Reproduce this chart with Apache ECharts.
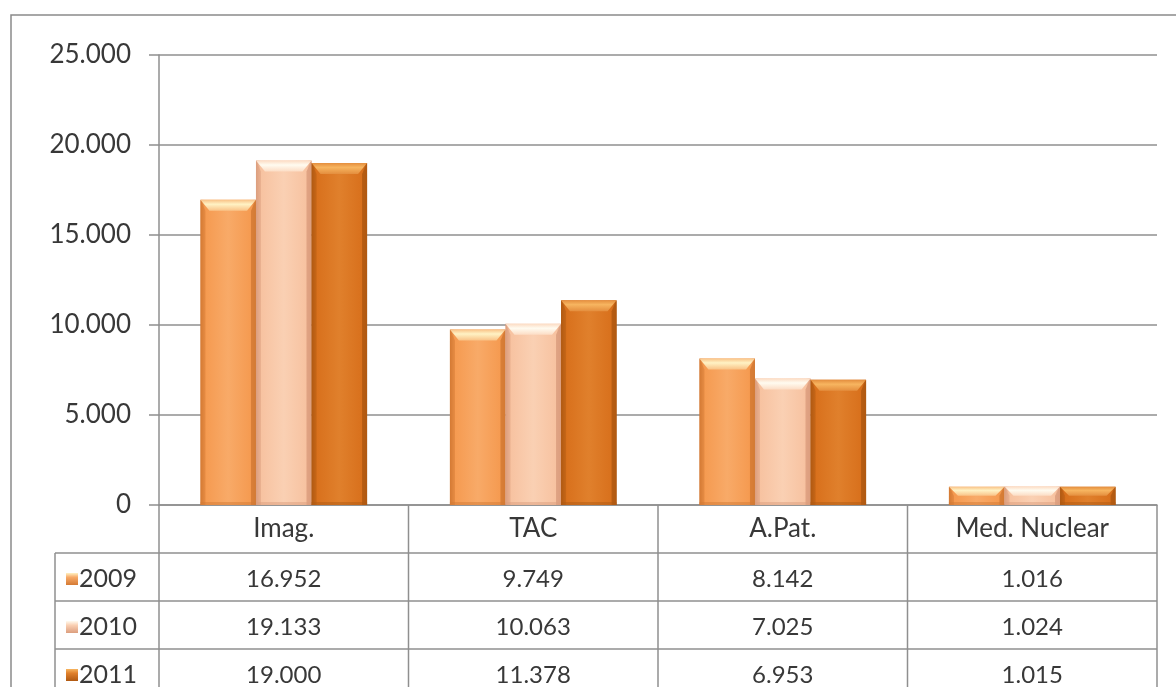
<!DOCTYPE html>
<html>
<head>
<meta charset="utf-8">
<script src="https://cdn.jsdelivr.net/npm/echarts@6/dist/echarts.min.js"></script>
<style>
  html, body { margin: 0; padding: 0; background: #fff; }
  #chart { width: 1176px; height: 687px; }
</style>
</head>
<body>
<div id="chart"></div>
<script>
// data
var categories = ["Imag.", "TAC", "A.Pat.", "Med. Nuclear"];
var years = ["2009", "2010", "2011"];
var values2009 = [16952, 9749, 8142, 1016];
var values2010 = [19133, 10063, 7025, 1024];
var values2011 = [19000, 11378, 6953, 1015];
var yTicks = [0, 5000, 10000, 15000, 20000, 25000];

var seriesValues = [values2009, values2010, values2011];

// bar colours: [edge, base, light, capTop, capBottom]
var palette = [
  ["#d47a34", "#f59a50", "#f8aa68", "#fff2c4", "#f9c286"],
  ["#dc9e7e", "#f7c2a0", "#fad0b3", "#fffbf0", "#fcdcc4"],
  ["#b05912", "#d8701c", "#e0802c", "#f7b560", "#e48e3e"]
];

var GRID_L = 159, GRID_R = 1157, GRID_T = 55, GRID_B = 505;
var ROW_H = 48;
var TABLE_L = 55;
var textColor = "#383838";
var lineColor = "#8f8f8f";
var fontFam = "Lato, 'Open Sans', sans-serif";

function fmt(v) {
  return String(v).replace(/\B(?=(\d{3})+(?!\d))/g, ".");
}

// bevelled bar drawn from the category scale
function makeRender(idx) {
  return function (params, api) {
    var cat = api.value(0);
    var val = api.value(1);
    var base = api.coord([cat, 0]);
    var top = api.coord([cat, val]);
    var band = api.size([1, 0])[0];
    var groupW = band * 0.668;
    var bw = groupW / 3;
    var x = base[0] - groupW / 2 + idx * bw;
    var yt = top[1];
    var yb = base[1];
    var c = palette[idx];
    var cap = Math.min(11, (yb - yt) / 2);
    var side = 5;
    return {
      type: "group",
      children: [
        {
          type: "rect",
          shape: { x: x, y: yt, width: bw, height: yb - yt },
          style: {
            fill: new echarts.graphic.LinearGradient(0, 0, 1, 0, [
              { offset: 0, color: c[0] },
              { offset: 0.08, color: c[1] },
              { offset: 0.5, color: c[2] },
              { offset: 0.92, color: c[1] },
              { offset: 1, color: c[0] }
            ])
          }
        },
        {
          type: "polygon",
          shape: { points: [[x, yt], [x + side, yt + cap], [x + side, yb], [x, yb]] },
          style: { fill: c[0], opacity: 0.5 }
        },
        {
          type: "polygon",
          shape: { points: [[x + bw, yt], [x + bw - side, yt + cap], [x + bw - side, yb], [x + bw, yb]] },
          style: { fill: c[0], opacity: 0.85 }
        },
        {
          type: "polygon",
          shape: { points: [[x, yt], [x + bw, yt], [x + bw - side * 1.8, yt + cap], [x + side * 1.8, yt + cap]] },
          style: {
            fill: new echarts.graphic.LinearGradient(0, 0, 0, 1, [
              { offset: 0, color: c[4] },
              { offset: 0.4, color: c[3] },
              { offset: 1, color: c[4] }
            ])
          }
        },
        {
          type: "rect",
          shape: { x: x, y: yb - 3, width: bw, height: 3 },
          style: { fill: c[0], opacity: 0.5 }
        }
      ]
    };
  };
}

var series = seriesValues.map(function (vals, i) {
  return {
    name: years[i],
    type: "custom",
    renderItem: makeRender(i),
    encode: { x: 0, y: 1 },
    data: vals.map(function (v, k) { return [k, v]; }),
    z: 3
  };
});

// data table drawn under the axis
var graphics = [];
var bandW = (GRID_R - GRID_L) / categories.length;
var tableBottom = GRID_B + ROW_H * (years.length + 1);

// outer frame
graphics.push({
  type: "rect",
  shape: { x: 11, y: 15, width: 1200, height: 700 },
  style: { fill: "none", stroke: "#8a8a8a", lineWidth: 1.5 }
});

// horizontal row lines
for (var r = 1; r <= years.length; r++) {
  graphics.push({
    type: "line",
    shape: { x1: TABLE_L, y1: GRID_B + ROW_H * r, x2: GRID_R, y2: GRID_B + ROW_H * r },
    style: { stroke: lineColor, lineWidth: 1.5 }
  });
}
// vertical lines
graphics.push({
  type: "line",
  shape: { x1: TABLE_L, y1: GRID_B + ROW_H, x2: TABLE_L, y2: tableBottom },
  style: { stroke: lineColor, lineWidth: 1.5 }
});
for (var k = 0; k <= categories.length; k++) {
  var vx = GRID_L + bandW * k;
  graphics.push({
    type: "line",
    shape: { x1: vx, y1: GRID_B, x2: vx, y2: tableBottom },
    style: { stroke: lineColor, lineWidth: 1.5 }
  });
}

// rows: legend key, year, values
years.forEach(function (yr, i) {
  var cy = GRID_B + ROW_H * (i + 1) + ROW_H / 2 + 2;
  var c = palette[i];
  graphics.push({
    type: "rect",
    shape: { x: 66, y: cy - 6, width: 12, height: 12 },
    style: {
      fill: new echarts.graphic.LinearGradient(0, 0, 0, 1, [
        { offset: 0, color: c[3] },
        { offset: 0.35, color: c[2] },
        { offset: 1, color: c[0] }
      ])
    }
  });
  graphics.push({
    type: "text",
    x: 79,
    y: cy,
    style: {
      text: yr,
      fill: textColor,
      font: "25px " + fontFam,
      align: "left",
      verticalAlign: "middle"
    }
  });
  seriesValues[i].forEach(function (v, k) {
    graphics.push({
      type: "text",
      x: GRID_L + bandW * (k + 0.5),
      y: cy,
      style: {
        text: fmt(v),
        fill: textColor,
        font: "24px " + fontFam,
        align: "center",
        verticalAlign: "middle"
      }
    });
  });
});

var chart = echarts.init(document.getElementById("chart"));
chart.setOption({
  animation: false,
  backgroundColor: "#ffffff",
  grid: {
    left: GRID_L,
    right: 1176 - GRID_R,
    top: GRID_T,
    bottom: 687 - GRID_B
  },
  xAxis: {
    type: "category",
    data: categories,
    axisTick: { show: false },
    axisLine: { lineStyle: { color: lineColor, width: 1.5 } },
    axisLabel: {
      color: textColor,
      fontSize: 26,
      fontFamily: fontFam,
      margin: 11,
      interval: 0
    },
    splitLine: { show: false }
  },
  yAxis: {
    type: "value",
    min: yTicks[0],
    max: yTicks[yTicks.length - 1],
    interval: 5000,
    axisLine: { show: true, lineStyle: { color: lineColor, width: 1.5 } },
    axisTick: { show: true, length: 10, lineStyle: { color: lineColor, width: 1.5 } },
    axisLabel: {
      color: textColor,
      fontSize: 26,
      fontFamily: fontFam,
      margin: 28,
      formatter: function (v) { return fmt(v); }
    },
    splitLine: { lineStyle: { color: lineColor, width: 1.5 } }
  },
  series: series,
  graphic: graphics
});
</script>
</body>
</html>
